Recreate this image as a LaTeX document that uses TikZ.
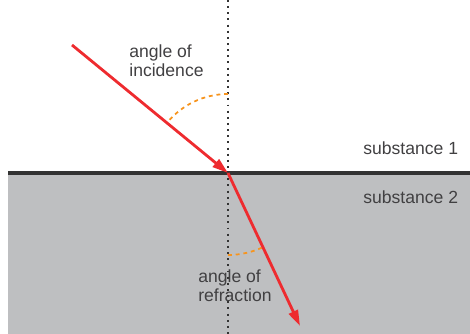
\documentclass[tikz,border=0pt]{standalone}
\usepackage{fontspec}
\setmainfont{Liberation Sans}
\usepackage{tikz}
\usetikzlibrary{arrows.meta}
\definecolor{ray}{HTML}{EE2B2F}
\definecolor{anglemark}{HTML}{F7941D}
\definecolor{medium}{HTML}{BEBFC1}
\definecolor{boundary}{HTML}{333333}
\definecolor{labeltext}{HTML}{414042}

\begin{document}
\begin{tikzpicture}[
  x=0.02cm, y=0.02cm,
  lbl/.style={inner sep=0pt, align=left, text=labeltext,
              font=\fontsize{10}{10.8}\selectfont},
  beam/.style={-{Triangle[length=9pt, width=5.5pt]}, ray, line width=1.6pt},
  normal/.style={dash pattern=on 1.1pt off 2.4pt, line width=1.2pt, black!80},
  arcmark/.style={dash pattern=on 2.2pt off 2.2pt, anglemark, line width=1pt}
]
\useasboundingbox (0,0) rectangle (470,334);

% the two substances
\fill[medium] (8,0) rectangle (470,161);
\draw[boundary, line width=2.2pt] (8,161) -- (470,161);

\coordinate (O) at (228,161);
\coordinate (src) at (72,289);
\coordinate (dst) at (300,8);
\coordinate (ntop) at (228,334);
\coordinate (nbot) at (228,0);

% normal
\draw[normal] (ntop) -- (nbot);

% angle marks
\draw[arcmark] ([shift={(90:79)}]O) arc[start angle=90, end angle=140.6, radius=79];
\draw[arcmark] ([shift={(-90:82)}]O) arc[start angle=-90, end angle=-64.8, radius=82];

% rays
\draw[beam] (src) -- (O);
\draw[beam] (O) -- (dst);

\node[lbl, anchor=north west] (inc) at (129,290) {angle of\\incidence};
\node[lbl, anchor=north west] (refr) at (198,65) {angle of\\refraction};
\node[lbl, anchor=base west] (sub1) at (363,179) {substance 1};
\node[lbl, anchor=base west] (sub2) at (363,130) {substance 2};

\end{tikzpicture}
\end{document}
